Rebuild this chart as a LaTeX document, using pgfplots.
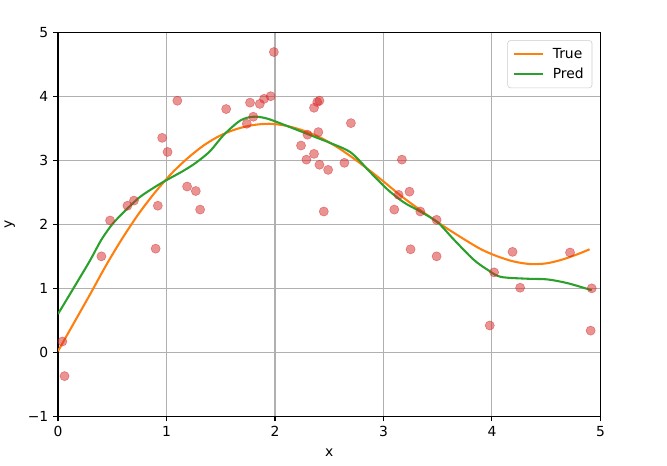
\documentclass[border=0pt]{standalone}
\usepackage{fontspec}
\setmainfont{DejaVu Sans}
\usepackage{pgfplots}
\pgfplotsset{compat=1.18}
\definecolor{tabred}{HTML}{D62728}
\definecolor{taborange}{HTML}{FF7F0E}
\definecolor{tabgreen}{HTML}{2CA02C}
\begin{document}
\begin{tikzpicture}
\begin{axis}[
  scale only axis, width=391pt, height=277pt,
  xmin=0, xmax=5, ymin=-1, ymax=5,
  xtick={0,1,2,3,4,5}, ytick={-1,0,1,2,3,4,5},
  yticklabels={−1,0,1,2,3,4,5},
  grid=major, grid style={color=black!31, line width=0.8pt},
  axis line style={line width=0.8pt},
  tick style={line width=0.8pt, black},
  tick align=outside, tick pos=left,
  major tick length=3.5pt,
  /pgf/number format/assume math mode=true,
  ticklabel style={font=\fontsize{10}{12}\selectfont},
  label style={font=\fontsize{10}{12}\selectfont},
  xlabel={x}, ylabel={y},
  xlabel style={yshift=-2.3pt},
  ylabel style={yshift=2.3pt},
  legend style={at={(0.985,0.979)}, anchor=north east, draw=black!20, fill=white, fill opacity=0.8, text opacity=1, rounded corners=2pt, font=\fontsize{10}{12}\selectfont, inner xsep=4pt, inner ysep=3.5pt, row sep=1.2pt,
    /tikz/every odd column/.append style={column sep=4pt}},
  legend cell align=left,
  legend image code/.code={\draw[#1] (0cm,0cm) -- (0.74cm,0cm);},
]
\addplot[only marks, mark=*, mark size=3.3pt, draw=tabred, fill=tabred, opacity=0.5, forget plot] coordinates {
(0.04,0.17)(0.06,-0.37)(0.40,1.50)(0.48,2.06)(0.64,2.29)(0.70,2.37)(0.90,1.62)(0.92,2.29)
(0.96,3.35)(1.01,3.13)(1.10,3.93)(1.19,2.59)(1.27,2.52)(1.31,2.23)(1.55,3.80)(1.74,3.57)
(1.77,3.90)(1.80,3.68)(1.86,3.88)(1.90,3.96)(1.96,4.00)(1.99,4.69)(2.24,3.23)(2.29,3.01)
(2.30,3.40)(2.36,3.10)(2.36,3.82)(2.39,3.91)(2.41,3.93)(2.40,3.44)(2.41,2.93)(2.45,2.20)
(2.49,2.85)(2.64,2.96)(2.70,3.58)(3.10,2.23)(3.14,2.46)(3.17,3.01)(3.24,2.51)(3.25,1.61)
(3.34,2.20)(3.49,2.07)(3.49,1.50)(3.98,0.42)(4.02,1.25)(4.19,1.57)(4.26,1.01)(4.72,1.56)
(4.92,1.00)(4.91,0.34)
};
\addplot[taborange, line width=1.5pt, smooth, tension=0.5] coordinates {
(0,0.02)(0.15,0.47)(0.30,0.92)(0.45,1.38)(0.60,1.80)(0.75,2.18)(0.90,2.51)(1.05,2.80)
(1.20,3.04)(1.35,3.24)(1.50,3.39)(1.65,3.49)(1.80,3.55)(1.95,3.57)(2.10,3.54)(2.25,3.47)
(2.40,3.37)(2.55,3.23)(2.70,3.06)(2.85,2.87)(3.00,2.67)(3.15,2.46)(3.30,2.27)(3.45,2.09)
(3.60,1.92)(3.75,1.76)(3.90,1.61)(4.05,1.50)(4.20,1.42)(4.35,1.38)(4.50,1.39)(4.65,1.45)
(4.80,1.54)(4.90,1.61)
};
\addlegendentry{True}
\addplot[tabgreen, line width=1.5pt, smooth, tension=0.5] coordinates {
(0,0.60)(0.135,0.98)(0.29,1.42)(0.40,1.76)(0.50,2.00)(0.60,2.18)(0.75,2.42)(0.90,2.59)(1.0,2.69)
(1.15,2.83)(1.27,2.96)(1.40,3.14)(1.53,3.40)(1.68,3.62)(1.80,3.68)(1.93,3.65)(2.15,3.51)
(2.39,3.35)(2.51,3.27)(2.70,3.12)(2.88,2.81)(3.04,2.54)(3.19,2.34)(3.34,2.20)(3.50,2.03)
(3.65,1.76)(3.83,1.45)(3.96,1.29)(4.08,1.18)(4.33,1.15)(4.51,1.14)(4.70,1.08)(4.92,0.97)
};
\addlegendentry{Pred}
\end{axis}
\path[use as bounding box] (-41pt,-35.3pt) rectangle (439pt,300.2pt);
\end{tikzpicture}
\end{document}
